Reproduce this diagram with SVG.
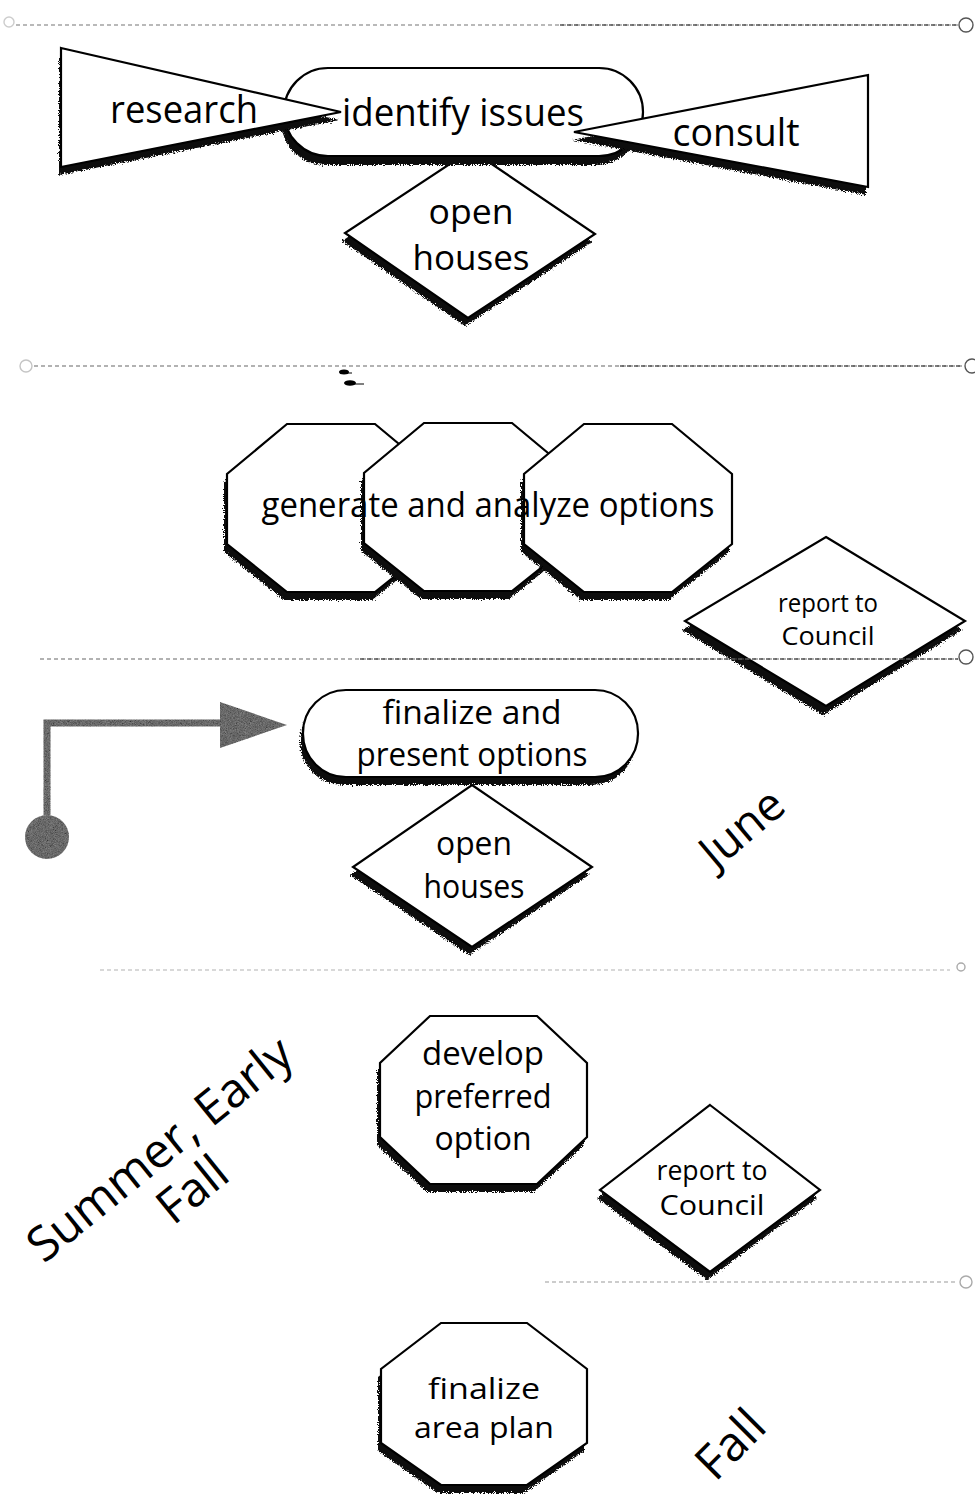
<svg xmlns="http://www.w3.org/2000/svg" width="975" height="1494" viewBox="0 0 975 1494">
<style>
.shape{fill:#fff;stroke:#000;stroke-width:2.2;stroke-linejoin:miter}
.shadow{fill:#0a0a0a;filter:url(#rough)}
.lbl{font-family:"Open Sans","Noto Sans","DejaVu Sans",sans-serif;fill:#000;text-anchor:middle}
.div{fill:none;stroke:#555;stroke-width:1.4;stroke-dasharray:4 3}
.end{fill:none;stroke:#555;stroke-width:1.4}
.grain{fill:#8a8a8a;filter:url(#grain)}
</style>
<defs>
<filter id="rough" x="-10%" y="-10%" width="120%" height="130%">
<feTurbulence type="fractalNoise" baseFrequency="0.9" numOctaves="2" seed="3" result="n"/>
<feDisplacementMap in="SourceGraphic" in2="n" scale="6" xChannelSelector="R" yChannelSelector="G"/>
</filter>
<filter id="grain" x="-20%" y="-20%" width="140%" height="140%">
<feTurbulence type="fractalNoise" baseFrequency="1.4" numOctaves="2" seed="7" result="n"/>
<feColorMatrix in="n" type="matrix" values="0.6 0.6 0.6 0 -0.35  0.6 0.6 0.6 0 -0.35  0.6 0.6 0.6 0 -0.35  0 0 0 0 1" result="g"/>
<feComposite in="g" in2="SourceGraphic" operator="in" result="gi"/>
<feBlend in="SourceGraphic" in2="gi" mode="multiply"/>
</filter>
</defs>
<rect width="975" height="1494" fill="#fff"/>

<!-- Section 1 -->
<g id="open-houses-1">
<polygon class="shadow" transform="translate(-3,8)" points="471,150 595,234 468,318 345,233"/>
<polygon class="shape" points="471,150 595,234 468,318 345,233"/>
<text class="lbl" x="471" y="224" font-size="35" textLength="85" lengthAdjust="spacingAndGlyphs">open</text>
<text class="lbl" x="471" y="270" font-size="35" textLength="117" lengthAdjust="spacingAndGlyphs">houses</text>
</g>
<g id="identify-issues">
<rect class="shadow" transform="translate(-3,9)" x="284" y="68" width="359" height="88" rx="44"/>
<rect class="shape" x="284" y="68" width="359" height="88" rx="44"/>
</g>
<g id="research">
<polygon class="shadow" transform="translate(-2,8)" points="61,48 341,112 61,167"/>
<polygon class="shape" points="61,48 341,112 61,167"/>
<text class="lbl" x="184" y="123" font-size="39" textLength="148" lengthAdjust="spacingAndGlyphs">research</text>
</g>
<g id="consult">
<polygon class="shadow" transform="translate(-2,8)" points="868,75 574,132 868,187"/>
<polygon class="shape" points="868,75 574,132 868,187"/>
<text class="lbl" x="736" y="146" font-size="39" textLength="127" lengthAdjust="spacingAndGlyphs">consult</text>
</g>
<text class="lbl" x="463" y="126" font-size="39" textLength="242" lengthAdjust="spacingAndGlyphs">identify issues</text>

<!-- Section 2 -->
<g id="generate-options">
<g id="oct-1">
<polygon class="shadow" transform="translate(-3,8)" points="287,424 375,424 435,474 435,544 375,592 287,592 227,544 227,474"/>
<polygon class="shape" points="287,424 375,424 435,474 435,544 375,592 287,592 227,544 227,474"/>
</g>
<g id="oct-2">
<polygon class="shadow" transform="translate(-3,8)" points="424,423 512,423 572,473 572,543 512,591 424,591 364,543 364,473"/>
<polygon class="shape" points="424,423 512,423 572,473 572,543 512,591 424,591 364,543 364,473"/>
</g>
<g id="oct-3">
<polygon class="shadow" transform="translate(-3,8)" points="584,424 672,424 732,474 732,544 672,592 584,592 524,544 524,474"/>
<polygon class="shape" points="584,424 672,424 732,474 732,544 672,592 584,592 524,544 524,474"/>
</g>
<text class="lbl" x="488" y="517" font-size="35" textLength="453" lengthAdjust="spacingAndGlyphs">generate and analyze options</text>
</g>
<g id="report-council-1">
<polygon class="shadow" transform="translate(-3,9)" points="826,537 965,621 826,706 685,621"/>
<polygon class="shape" points="826,537 965,621 826,706 685,621"/>
<text class="lbl" x="828" y="612" font-size="25" textLength="100" lengthAdjust="spacingAndGlyphs">report to</text>
<text class="lbl" x="828" y="645" font-size="25" textLength="93" lengthAdjust="spacingAndGlyphs">Council</text>
</g>

<!-- Section 3 -->
<g id="open-houses-2">
<polygon class="shadow" transform="translate(-3,8)" points="472,785 592,867 472,947 353,867"/>
<polygon class="shape" points="472,785 592,867 472,947 353,867"/>
<text class="lbl" x="474" y="855" font-size="33" textLength="76" lengthAdjust="spacingAndGlyphs">open</text>
<text class="lbl" x="474" y="898" font-size="33" textLength="101" lengthAdjust="spacingAndGlyphs">houses</text>
</g>
<g id="finalize-present">
<rect class="shadow" transform="translate(-3,8)" x="303" y="690" width="335" height="87" rx="43"/>
<rect class="shape" x="303" y="690" width="335" height="87" rx="43"/>
<text class="lbl" x="472" y="724" font-size="32" textLength="179" lengthAdjust="spacingAndGlyphs">finalize and</text>
<text class="lbl" x="472" y="766" font-size="32" textLength="231" lengthAdjust="spacingAndGlyphs">present options</text>
</g>
<g id="connectors">
<path d="M47,818 V723 H222" fill="none" stroke="#8a8a8a" stroke-width="7" filter="url(#grain)"/>
<polygon class="grain" points="220,702 287,725 220,748"/>
<circle class="grain" cx="47" cy="837" r="22"/>
</g>
<g id="label-june">
<text class="lbl" font-size="46" transform="translate(752,840) rotate(-40)">June</text>
</g>

<!-- Section 4 -->
<g id="develop-preferred">
<polygon class="shadow" transform="translate(-3,8)" points="430,1016 537,1016 587,1063 587,1137 537,1184 430,1184 380,1137 380,1063"/>
<polygon class="shape" points="430,1016 537,1016 587,1063 587,1137 537,1184 430,1184 380,1137 380,1063"/>
<text class="lbl" x="483" y="1065" font-size="32" textLength="122" lengthAdjust="spacingAndGlyphs">develop</text>
<text class="lbl" x="483" y="1108" font-size="32" textLength="137" lengthAdjust="spacingAndGlyphs">preferred</text>
<text class="lbl" x="483" y="1150" font-size="32" textLength="97" lengthAdjust="spacingAndGlyphs">option</text>
</g>
<g id="report-council-2">
<polygon class="shadow" transform="translate(-3,8)" points="710,1105 820,1190 710,1272 600,1190"/>
<polygon class="shape" points="710,1105 820,1190 710,1272 600,1190"/>
<text class="lbl" x="712" y="1180" font-size="27" textLength="111" lengthAdjust="spacingAndGlyphs">report to</text>
<text class="lbl" x="712" y="1215" font-size="27" textLength="105" lengthAdjust="spacingAndGlyphs">Council</text>
</g>
<g id="label-summer">
<g transform="translate(170,1162) rotate(-39)">
<text class="lbl" x="0" y="0" font-size="48">Summer, Early</text>
<text class="lbl" x="0" y="52" font-size="48">Fall</text>
</g>
</g>

<!-- Section 5 -->
<g id="finalize-plan">
<polygon class="shadow" transform="translate(-3,8)" points="441,1323 527,1323 587,1369 587,1443 527,1485 441,1485 381,1443 381,1369"/>
<polygon class="shape" points="441,1323 527,1323 587,1369 587,1443 527,1485 441,1485 381,1443 381,1369"/>
<text class="lbl" x="484" y="1399" font-size="30" textLength="112" lengthAdjust="spacingAndGlyphs">finalize</text>
<text class="lbl" x="484" y="1438" font-size="30" textLength="140" lengthAdjust="spacingAndGlyphs">area plan</text>
</g>
<g id="label-fall">
<text class="lbl" font-size="48" transform="translate(742,1456) rotate(-45)">Fall</text>
</g>

<!-- dividers -->
<g id="dividers">
<path class="div" d="M16,25 H958" opacity="0.55"/>
<path class="div" d="M560,25 H958"/>
<circle class="end" cx="966" cy="25" r="7"/>
<circle class="end" cx="9" cy="22" r="5" opacity="0.3"/>
<path class="div" d="M34,366 H962" opacity="0.6"/>
<path class="div" d="M620,366 H962"/>
<circle class="end" cx="26" cy="366" r="6" opacity="0.35"/>
<circle class="end" cx="972" cy="366" r="7"/>
<ellipse cx="344" cy="372" rx="5" ry="2.5" fill="#000"/>
<path d="M347,373 h5" stroke="#000" stroke-width="1"/>
<ellipse cx="350" cy="383" rx="6" ry="2.8" fill="#000"/>
<path d="M354,384 h10" stroke="#000" stroke-width="1"/>
<path class="div" d="M40,659 H958" opacity="0.6"/>
<path class="div" d="M360,659 H958"/>
<circle class="end" cx="966" cy="657" r="7"/>
<path class="div" d="M100,970 H950" opacity="0.3"/>
<circle class="end" cx="961" cy="967" r="4" opacity="0.5"/>
<path class="div" d="M545,1282 H958" opacity="0.4"/>
<circle class="end" cx="966" cy="1282" r="6" opacity="0.5"/>
</g>
</svg>
